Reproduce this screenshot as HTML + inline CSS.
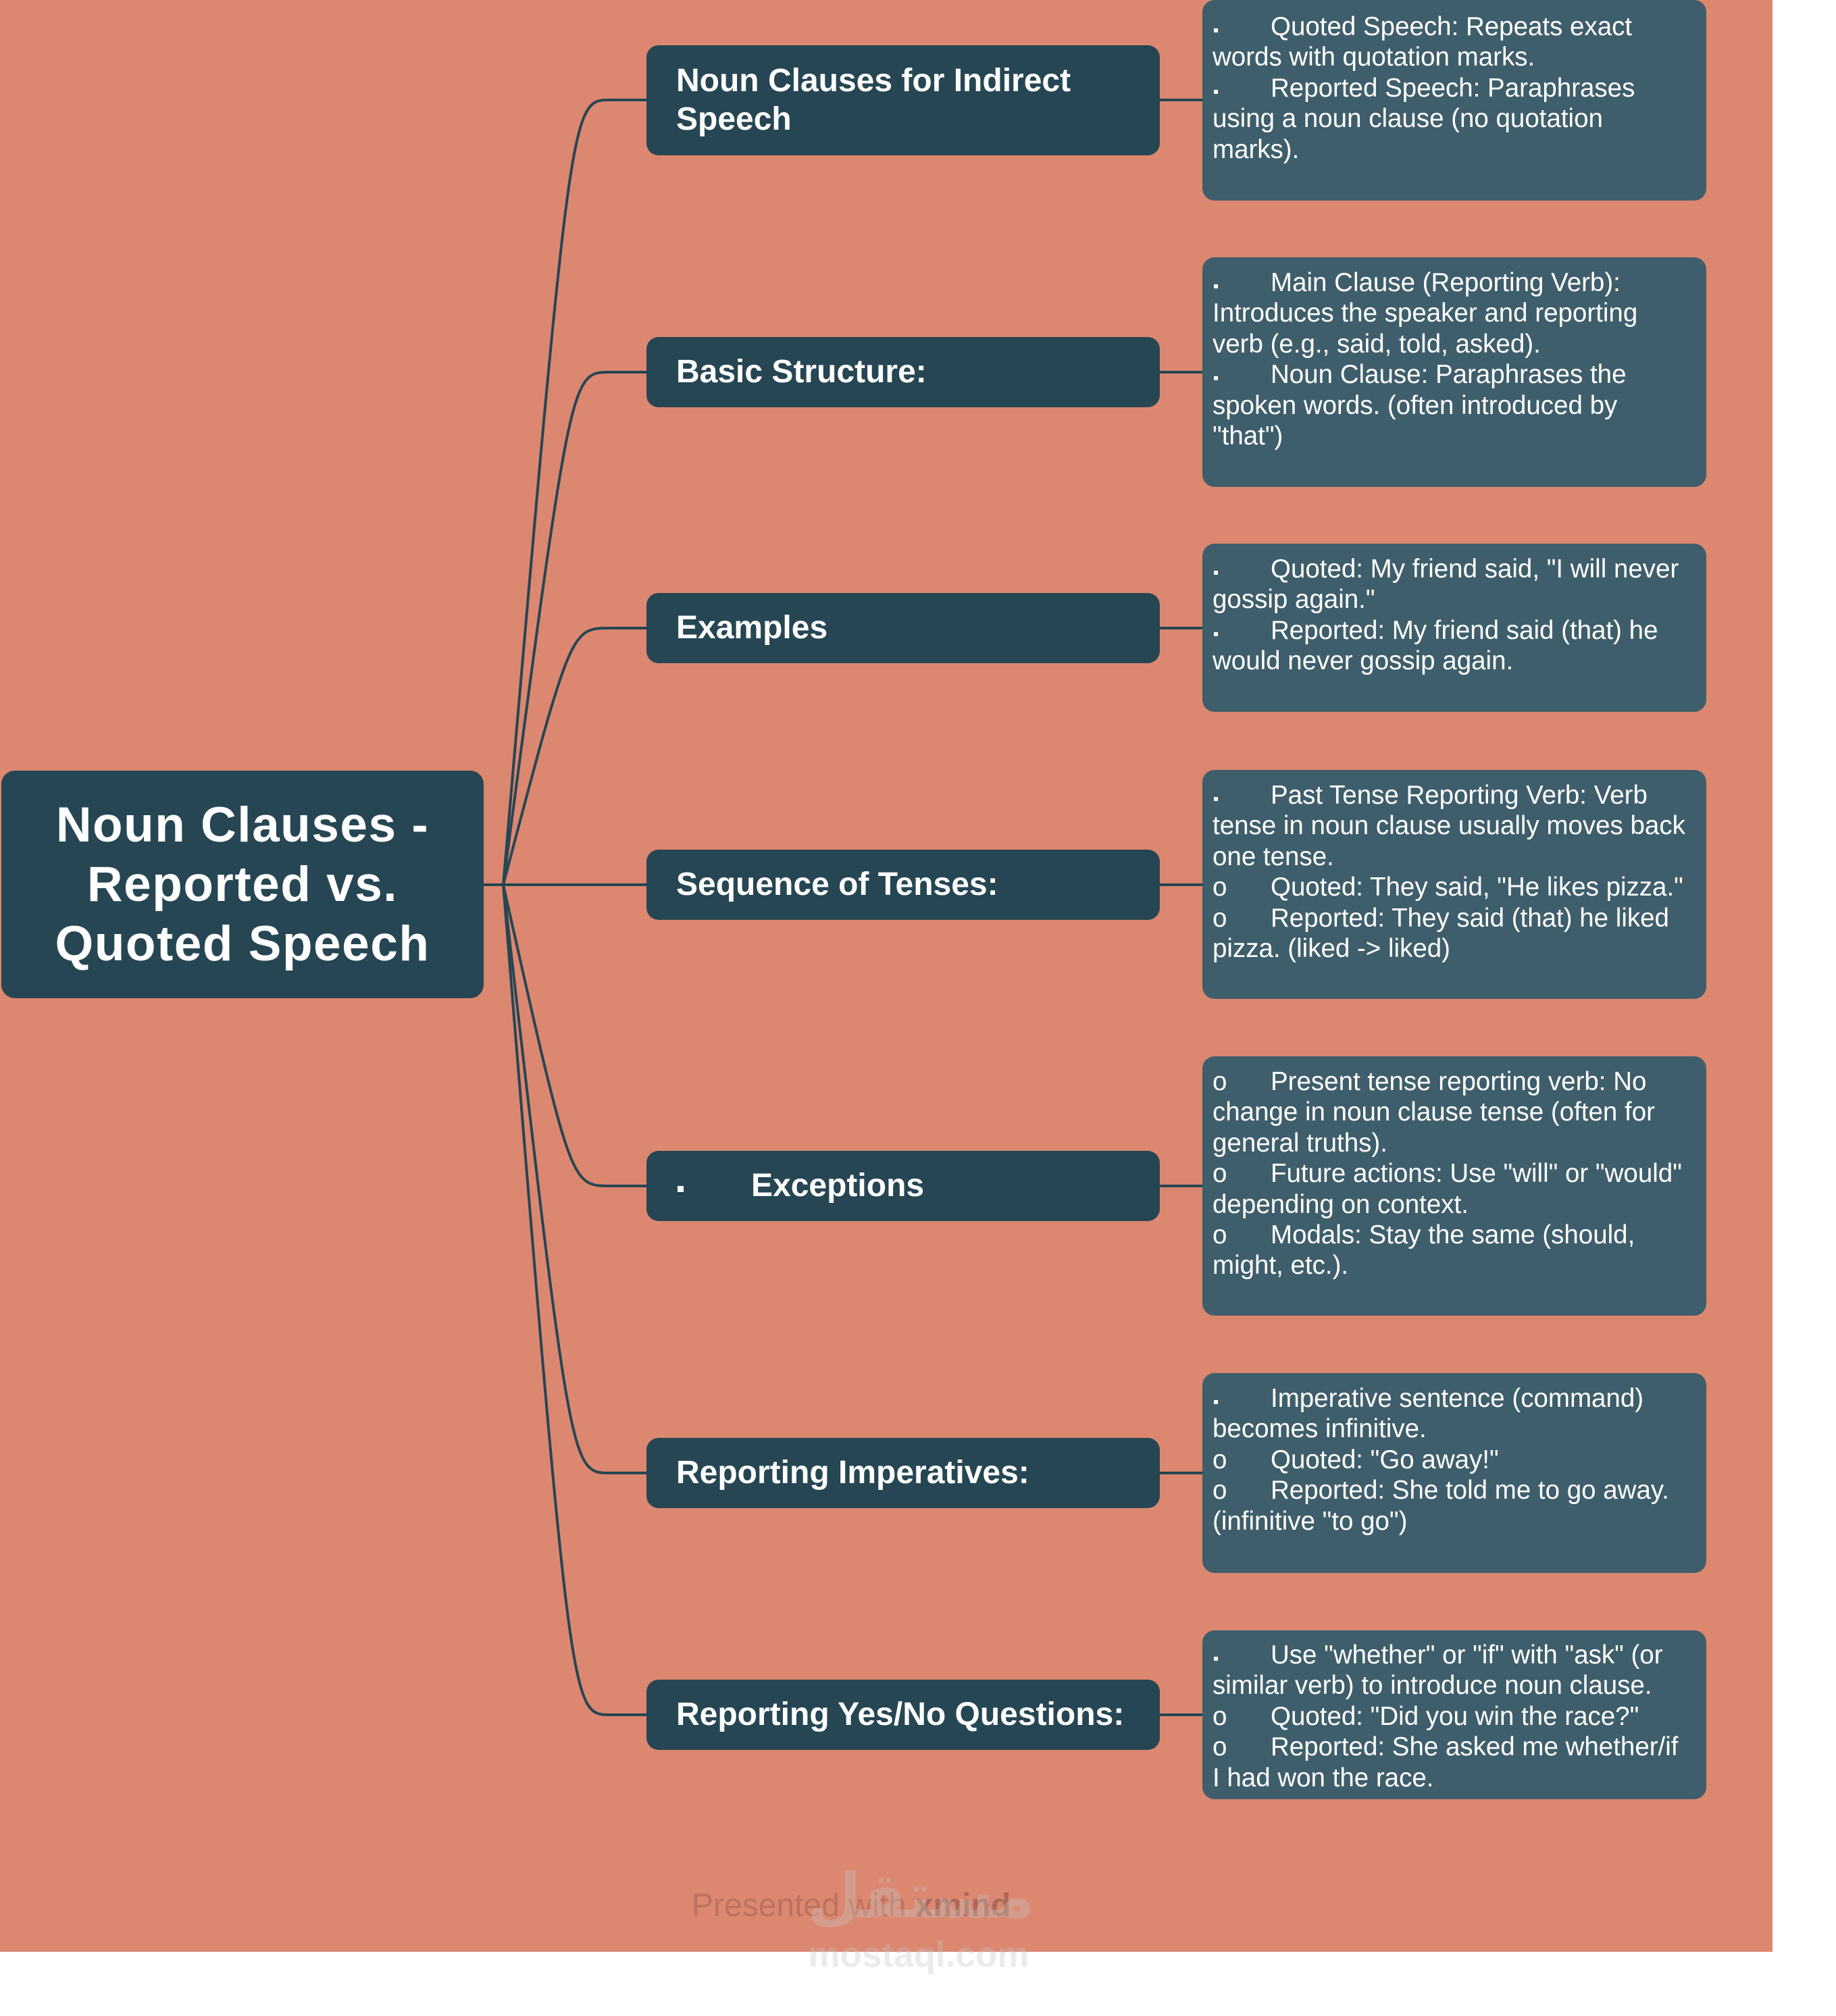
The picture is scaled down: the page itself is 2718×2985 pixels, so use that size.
<!DOCTYPE html>
<html>
<head>
<meta charset="utf-8">
<style>
  html, body { margin:0; padding:0; }
  body { width:2718px; height:2985px; position:relative; background:#ffffff; overflow:hidden;
         font-family:"Liberation Sans", "DejaVu Sans", sans-serif; }
  .bg { position:absolute; left:0; top:0; width:2624px; height:2890px; background:#DC8770; }
  svg.lines { position:absolute; left:0; top:0; }
  .node { position:absolute; background:#264653; border-radius:18px; color:#ffffff; }
  .central { left:2px; top:1141px; width:714px; height:337px; border-radius:20px; }
  .central .t { position:absolute; left:0; right:0; top:37px; text-align:center;
                font-size:73px; line-height:88px; font-weight:bold; letter-spacing:1.5px; white-space:nowrap; }
  .br { left:957px; width:760px; height:104px; }
  .br .t { position:absolute; left:44px; top:23px; font-size:48px; line-height:57px; font-weight:bold; white-space:nowrap; }
  .box { position:absolute; left:1780px; width:746px; background:#3F5E6B; border-radius:18px; color:#ffffff; }
  .box .t { position:absolute; left:15px; top:15px; font-size:38.5px; line-height:45.4px; white-space:nowrap; }
  .ln { height:45.4px; position:relative; }
  .bd { display:inline-block; width:86px; position:relative; height:10px; }
  .bd::before { content:""; position:absolute; left:2px; top:0px; width:6px; height:6px; background:#ffffff; }
  .bo { display:inline-block; width:86px; }
  .foot { position:absolute; left:1024px; top:2798px; font-size:48px; line-height:48px; white-space:nowrap; color:rgba(0,0,0,0.15); }
  .foot b { color:rgba(0,0,0,0.22); }
  .wm1 { position:absolute; left:1195px; width:326px; top:2748px; text-align:center; font-family:"DejaVu Sans", sans-serif;
         font-weight:bold; font-size:92px; line-height:120px; color:rgba(196,196,196,0.34); white-space:nowrap; }
  .wm2 { position:absolute; left:1195px; width:330px; top:2868px; text-align:center; font-weight:bold;
         font-size:53px; line-height:53px; color:rgba(196,196,196,0.34); white-space:nowrap; }
</style>
</head>
<body>
<div class="bg"></div>

<svg class="lines" width="2718" height="2985" viewBox="0 0 2718 2985">
  <g fill="none" stroke="#264653" stroke-width="4">
    <path d="M716 1310 L745 1310"/>
    <path d="M745 1310 C845 148 845 148 903 148 L957 148"/>
    <path d="M745 1310 C845 551 845 551 903 551 L957 551"/>
    <path d="M745 1310 C845 930 845 930 903 930 L957 930"/>
    <path d="M745 1310 L957 1310"/>
    <path d="M745 1310 C845 1756 845 1756 903 1756 L957 1756"/>
    <path d="M745 1310 C845 2181 845 2181 903 2181 L957 2181"/>
    <path d="M745 1310 C845 2539 845 2539 903 2539 L957 2539"/>
    <path d="M1717 148 L1780 148"/>
    <path d="M1717 551 L1780 551"/>
    <path d="M1717 930 L1780 930"/>
    <path d="M1717 1310 L1780 1310"/>
    <path d="M1717 1756 L1780 1756"/>
    <path d="M1717 2181 L1780 2181"/>
    <path d="M1717 2539 L1780 2539"/>
  </g>
</svg>

<!-- central -->
<div class="node central"><div class="t">Noun Clauses -<br>Reported vs.<br>Quoted Speech</div></div>

<!-- branches -->
<div class="node br" style="top:67px;height:163px;"><div class="t" style="top:24px;">Noun Clauses for Indirect<br>Speech</div></div>
<div class="node br" style="top:499px;"><div class="t">Basic Structure:</div></div>
<div class="node br" style="top:878px;"><div class="t">Examples</div></div>
<div class="node br" style="top:1258px;"><div class="t">Sequence of Tenses:</div></div>
<div class="node br" style="top:1704px;">
  <div style="position:absolute;left:46px;top:52px;width:9px;height:9px;background:#ffffff;"></div>
  <div class="t" style="left:155px;">Exceptions</div>
</div>
<div class="node br" style="top:2129px;"><div class="t">Reporting Imperatives:</div></div>
<div class="node br" style="top:2487px;"><div class="t">Reporting Yes/No Questions:</div></div>

<!-- detail boxes -->
<div class="box" style="top:0px;height:297px;"><div class="t" style="top:17px;">
  <div class="ln"><span class="bd"></span>Quoted Speech: Repeats exact</div>
  <div class="ln">words with quotation marks.</div>
  <div class="ln"><span class="bd"></span>Reported Speech: Paraphrases</div>
  <div class="ln">using a noun clause (no quotation</div>
  <div class="ln">marks).</div>
</div></div>

<div class="box" style="top:381px;height:340px;"><div class="t">
  <div class="ln"><span class="bd"></span>Main Clause (Reporting Verb):</div>
  <div class="ln">Introduces the speaker and reporting</div>
  <div class="ln">verb (e.g., said, told, asked).</div>
  <div class="ln"><span class="bd"></span>Noun Clause: Paraphrases the</div>
  <div class="ln">spoken words. (often introduced by</div>
  <div class="ln">"that")</div>
</div></div>

<div class="box" style="top:805px;height:249px;"><div class="t">
  <div class="ln"><span class="bd"></span>Quoted: My friend said, "I will never</div>
  <div class="ln">gossip again."</div>
  <div class="ln"><span class="bd"></span>Reported: My friend said (that) he</div>
  <div class="ln">would never gossip again.</div>
</div></div>

<div class="box" style="top:1140px;height:339px;"><div class="t">
  <div class="ln"><span class="bd"></span>Past Tense Reporting Verb: Verb</div>
  <div class="ln">tense in noun clause usually moves back</div>
  <div class="ln">one tense.</div>
  <div class="ln"><span class="bo">o</span>Quoted: They said, "He likes pizza."</div>
  <div class="ln"><span class="bo">o</span>Reported: They said (that) he liked</div>
  <div class="ln">pizza. (liked -&gt; liked)</div>
</div></div>

<div class="box" style="top:1564px;height:384px;"><div class="t">
  <div class="ln"><span class="bo">o</span>Present tense reporting verb: No</div>
  <div class="ln">change in noun clause tense (often for</div>
  <div class="ln">general truths).</div>
  <div class="ln"><span class="bo">o</span>Future actions: Use "will" or "would"</div>
  <div class="ln">depending on context.</div>
  <div class="ln"><span class="bo">o</span>Modals: Stay the same (should,</div>
  <div class="ln">might, etc.).</div>
</div></div>

<div class="box" style="top:2033px;height:296px;"><div class="t">
  <div class="ln"><span class="bd"></span>Imperative sentence (command)</div>
  <div class="ln">becomes infinitive.</div>
  <div class="ln"><span class="bo">o</span>Quoted: "Go away!"</div>
  <div class="ln"><span class="bo">o</span>Reported: She told me to go away.</div>
  <div class="ln">(infinitive "to go")</div>
</div></div>

<div class="box" style="top:2414px;height:250px;"><div class="t" style="top:14px;">
  <div class="ln"><span class="bd"></span>Use "whether" or "if" with "ask" (or</div>
  <div class="ln">similar verb) to introduce noun clause.</div>
  <div class="ln"><span class="bo">o</span>Quoted: "Did you win the race?"</div>
  <div class="ln"><span class="bo">o</span>Reported: She asked me whether/if</div>
  <div class="ln">I had won the race.</div>
</div></div>

<!-- footer -->
<div class="foot">Presented with <b>xmind</b></div>
<div class="wm1">مستقل</div>
<div class="wm2">mostaql.com</div>

</body>
</html>
